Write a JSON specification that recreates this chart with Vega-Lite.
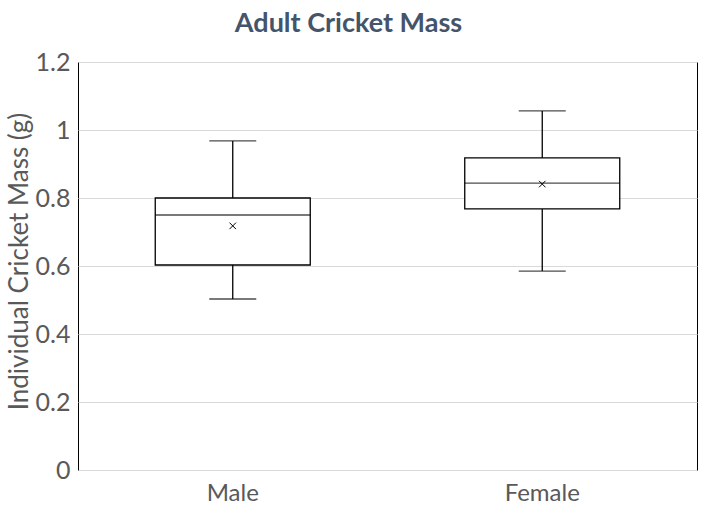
{
  "$schema": "https://vega.github.io/schema/vega-lite/v6.json",
  "autosize": "none",
  "padding": {"left": 78, "top": 62, "right": 6, "bottom": 44},
  "width": 619,
  "height": 408,
  "background": "white",
  "title": {
    "text": "Adult Cricket Mass",
    "font": "Lato",
    "fontSize": 27,
    "fontWeight": "bold",
    "color": "#44546A",
    "anchor": "middle",
    "dx": -39,
    "offset": 12
  },
  "config": {
    "font": "Lato",
    "view": {"stroke": "#000000", "strokeWidth": 1}
  },
  "data": {
    "values": [
      {"sex": "Male", "min": 0.503, "q1": 0.603, "median": 0.75, "q3": 0.80, "max": 0.968, "mean": 0.718},
      {"sex": "Female", "min": 0.585, "q1": 0.768, "median": 0.844, "q3": 0.918, "max": 1.056, "mean": 0.841}
    ]
  },
  "encoding": {
    "x": {
      "field": "sex",
      "type": "nominal",
      "sort": ["Male", "Female"],
      "scale": {"paddingInner": 0, "paddingOuter": 0},
      "axis": {
        "title": null,
        "labelAngle": 0,
        "labelFontSize": 24,
        "labelColor": "#595959",
        "labelPadding": 11,
        "ticks": false,
        "domain": false
      }
    }
  },
  "layer": [
    {
      "mark": {"type": "rule", "color": "#000000", "strokeWidth": 1.3},
      "encoding": {
        "y": {
          "field": "min",
          "type": "quantitative",
          "scale": {"domain": [0, 1.2], "nice": false},
          "axis": {
            "title": "Individual Cricket Mass (g)",
            "titleFontSize": 26,
            "titleFontWeight": "normal",
            "titleColor": "#595959",
            "titlePadding": 3,
            "titleY": 199,
            "labelFontSize": 25,
            "labelColor": "#595959",
            "labelPadding": 8,
            "format": "~g",
            "ticks": false,
            "domain": false,
            "values": [0, 0.2, 0.4, 0.6, 0.8, 1, 1.2],
            "gridColor": "#d9d9d9",
            "gridWidth": 1
          }
        },
        "y2": {"field": "max"}
      }
    },
    {
      "mark": {"type": "bar", "fill": "white", "stroke": "#000000", "strokeWidth": 1.3, "width": 155},
      "encoding": {
        "y": {"field": "q1", "type": "quantitative"},
        "y2": {"field": "q3"}
      }
    },
    {
      "mark": {"type": "tick", "color": "#000000", "size": 155, "thickness": 1.3},
      "encoding": {"y": {"field": "median", "type": "quantitative"}}
    },
    {
      "mark": {"type": "tick", "color": "#000000", "size": 47, "thickness": 1.3},
      "encoding": {"y": {"field": "min", "type": "quantitative"}}
    },
    {
      "mark": {"type": "tick", "color": "#000000", "size": 47, "thickness": 1.3},
      "encoding": {"y": {"field": "max", "type": "quantitative"}}
    },
    {
      "mark": {"type": "point", "shape": "M-1,-1L1,1M1,-1L-1,1", "size": 42, "filled": false, "stroke": "#000000", "strokeWidth": 1, "opacity": 1},
      "encoding": {"y": {"field": "mean", "type": "quantitative"}}
    }
  ]
}
